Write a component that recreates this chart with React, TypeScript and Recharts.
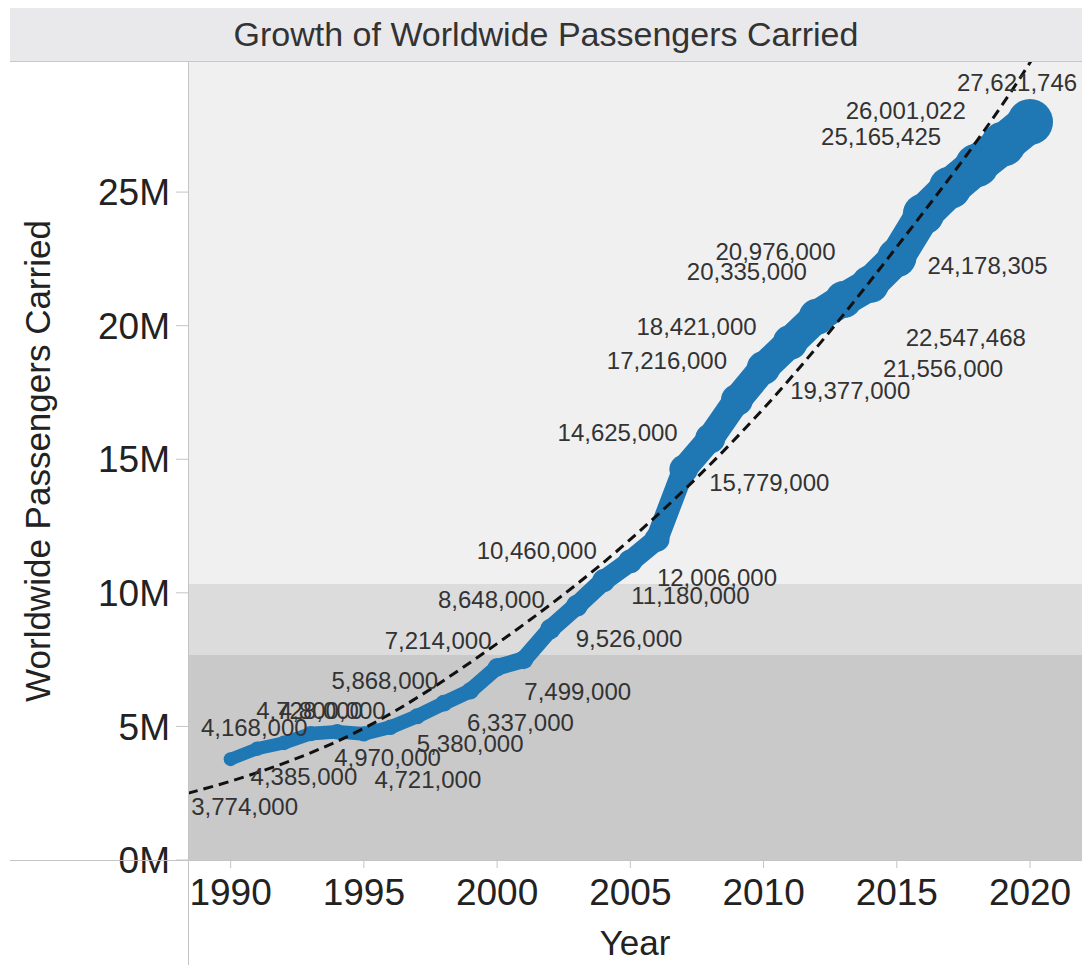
import { ComposedChart, Line, XAxis, YAxis, ReferenceArea, LabelList } from "recharts";

const font = "'Liberation Sans', Arial, sans-serif";
const blue = "#1f77b4";

// yearly passengers carried (labels in the picture; 2019 has no visible label)
const years = [
  1990, 1991, 1992, 1993, 1994, 1995, 1996, 1997, 1998, 1999, 2000, 2001, 2002, 2003, 2004, 2005,
  2006, 2007, 2008, 2009, 2010, 2011, 2012, 2013, 2014, 2015, 2016, 2017, 2018, 2019, 2020,
];
const passengers = [
  3774000, 4168000, 4385000, 4728000, 4800000, 4721000, 4970000, 5380000, 5868000, 6337000,
  7214000, 7499000, 8648000, 9526000, 10460000, 11180000, 12006000, 14625000, 15779000, 17216000,
  18421000, 19377000, 20335000, 20976000, 21556000, 22547468, 24178305, 25165425, 26001022,
  26800000, 27621746,
];
const unlabeledYears = [2019];

// trend line
const trendYears = [1988.4, 1990, 1995, 2000, 2005, 2010, 2015, 2020, 2021.5];
const trendValues = [2500000, 2950000, 4930000, 8100000, 12000000, 16900000, 22950000, 29850000, 32300000];

// background bands
const bandEdges = [0, 7670000, 10330000, 29870000];
const bandColors = ["#c9c9c9", "#dcdcdc", "#f0f0f0"];

const xTicks = [1990, 1995, 2000, 2005, 2010, 2015, 2020];
const yTicks = [0, 5000000, 10000000, 15000000, 20000000, 25000000];

// label placement relative to its point (Tableau moved them around)
const labelOffsets: [number, number][] = [
  [14, 47], [-3, -21], [20, 34], [-1, -23], [-5, -21], [64, 46], [-3, 30], [53, 27], [-59, -23], [50, 32],
  [-59, -27], [54, 32], [-59, -29], [52, 33], [-67, -30], [60, 34], [60, 38], [-66, -37], [59, 44], [-70, -40],
  [-67, -41], [60, 48], [-70, -45], [-68, -48], [73, 84], [69, 80], [64, 51], [-69, -51], [-71, -55], [0, 0], [-13, -40],
];

// line thickness grows with the value
const size = (v: number) => 8.9 + 1.34 * (v / 1e6);

const rows = years.map((year, j) => {
  const row: Record<string, number | undefined> = { year, value: passengers[j] };
  for (let i = 0; i < years.length - 1; i++) {
    row[`seg${i}`] = j === i || j === i + 1 ? passengers[j] : undefined;
  }
  return row;
});
const trendRows = trendYears.map((year, i) => ({ year, trend: trendValues[i] }));

function PointLabel(props: any) {
  const { x, y, index, value } = props;
  if (unlabeledYears.includes(years[index])) return null;
  const [dx, dy] = labelOffsets[index];
  return (
    <text
      x={x + dx}
      y={y + dy}
      textAnchor="middle"
      dominantBaseline="central"
      fontSize={24}
      fontFamily={font}
      fill="#333"
    >
      {Number(value).toLocaleString("en-US")}
    </text>
  );
}

export default function App() {
  return (
    <div style={{ position: "absolute", left: 0, top: 0, width: 1082, height: 965, background: "#fff", fontFamily: font }}>
      <div
        style={{
          position: "absolute",
          left: 10,
          top: 8,
          width: 1072,
          height: 53,
          background: "#e9e9ec",
          borderBottom: "1px solid #c8c8c8",
          textAlign: "center",
          lineHeight: "53px",
          fontSize: 34,
          color: "#333",
        }}
      >
        Growth of Worldwide Passengers Carried
      </div>
      <ComposedChart width={1082} height={965} data={rows} margin={{ top: 62, right: 0, bottom: 0, left: 0 }}>
        <XAxis
          type="number"
          dataKey="year"
          domain={[1988.4, 2021.95]}
          allowDataOverflow
          ticks={xTicks}
          height={105}
          tickSize={8}
          tickMargin={11}
          axisLine={false}
          tickLine={{ stroke: "#c4c4c4" }}
          tick={{ fill: "#222", fontSize: 37, fontFamily: font }}
          label={{
            content: (p: any) => (
              <text
                x={p.viewBox.x + p.viewBox.width / 2}
                y={942}
                textAnchor="middle"
                dominantBaseline="central"
                fontSize={35}
                fontFamily={font}
                fill="#222"
              >
                Year
              </text>
            ),
          }}
        />
        <YAxis
          type="number"
          domain={[0, 29870000]}
          allowDataOverflow
          ticks={yTicks}
          width={188}
          tickSize={12}
          tickMargin={6}
          axisLine={false}
          tickLine={{ stroke: "#c4c4c4" }}
          tickFormatter={(v: number) => `${v / 1e6}M`}
          tick={{ fill: "#222", fontSize: 37, fontFamily: font }}
          label={{
            content: (p: any) => {
              const cx = p.viewBox.x + 37;
              const cy = p.viewBox.y + p.viewBox.height / 2;
              return (
                <text
                  x={cx}
                  y={cy}
                  transform={`rotate(-90 ${cx} ${cy})`}
                  textAnchor="middle"
                  dominantBaseline="central"
                  fontSize={35}
                  fontFamily={font}
                  fill="#222"
                >
                  Worldwide Passengers Carried
                </text>
              );
            },
          }}
        />
        {bandColors.map((c, i) => (
          <ReferenceArea key={c} y1={bandEdges[i]} y2={bandEdges[i + 1]} fill={c} fillOpacity={1} stroke="none" />
        ))}
        {years.slice(0, -1).map((_, i) => (
          <Line
            key={`s${i}`}
            dataKey={`seg${i}`}
            stroke={blue}
            strokeWidth={0.9 * Math.min(size(passengers[i]), size(passengers[i + 1]))}
            strokeLinecap="round"
            dot={false}
            activeDot={false}
            isAnimationActive={false}
          />
        ))}
        {/* a round cap at each point gives the bead at the mark */}
        {years.map((year, j) => (
          <Line
            key={`c${j}`}
            data={[
              { year, cap: passengers[j] },
              { year: year + 0.001, cap: passengers[j] },
            ]}
            dataKey="cap"
            stroke={blue}
            strokeWidth={size(passengers[j])}
            strokeLinecap="round"
            dot={false}
            activeDot={false}
            isAnimationActive={false}
          />
        ))}
        <Line dataKey="value" stroke="none" dot={false} activeDot={false} isAnimationActive={false}>
          <LabelList dataKey="value" content={PointLabel} />
        </Line>
        <Line
          data={trendRows}
          dataKey="trend"
          type="monotone"
          stroke="#111"
          strokeWidth={3}
          strokeDasharray="10 6"
          dot={false}
          activeDot={false}
          isAnimationActive={false}
        />
      </ComposedChart>
      <div style={{ position: "absolute", left: 10, top: 860, width: 1072, height: 1, background: "#c4c4c4" }} />
      <div style={{ position: "absolute", left: 188, top: 62, width: 1, height: 903, background: "#c4c4c4" }} />
    </div>
  );
}
